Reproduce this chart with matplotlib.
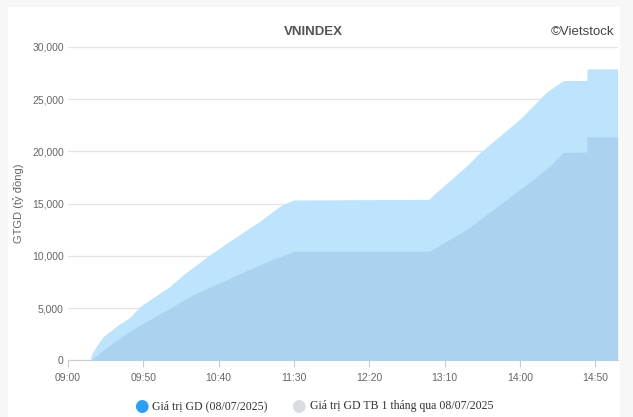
import matplotlib
matplotlib.use("Agg")
import matplotlib.pyplot as plt

plt.rcParams['font.family'] = ['Liberation Sans', 'DejaVu Sans']

# minutes since 09:00
today_t = [15, 15.3, 20, 23.4, 33.4, 41, 47.8, 67.7, 76.6, 94.3, 114, 127.5, 140.8, 149.6,
           239.7, 243, 264.7, 273.6, 286.9, 300.1, 317.9, 328.9, 344.5, 344.6, 365]
today_v = [0, 500, 1600, 2270, 3400, 4100, 5150, 7080, 8200, 10120, 12050, 13330, 14770, 15350,
           15410, 15890, 18620, 19900, 21500, 23100, 25700, 26790, 26790, 27900, 27900]

avg_t = [15, 23.4, 39, 50, 67.7, 83.2, 105.4, 127.5, 149.6,
         240, 264.7, 286.9, 309, 320, 328.9, 344.5, 344.6, 365]
avg_v = [0, 990, 2600, 3560, 5000, 6280, 7720, 9160, 10440,
         10440, 12530, 14930, 17340, 18620, 19900, 19950, 21400, 21400]

tick_pos = [0, 50, 100, 150, 200, 250, 300, 350]
tick_lab = ["09:00", "09:50", "10:40", "11:30", "12:20", "13:10", "14:00", "14:50"]
y_ticks = [0, 5000, 10000, 15000, 20000, 25000, 30000]

fig = plt.figure(figsize=(6.33, 4.17), dpi=100)
fig.patch.set_facecolor("#f7f7f7")

# white panel behind the chart
bg = fig.add_axes([8 / 633, 0, 612 / 633, 410 / 417], zorder=-1)
bg.set_facecolor("white")
bg.set_xticks([])
bg.set_yticks([])
for s in bg.spines.values():
    s.set_visible(False)

ax = fig.add_axes([68 / 633, 1 - 360.3 / 417, 550 / 633, 313.3 / 417], zorder=1)
ax.patch.set_alpha(0)
ax.fill_between(today_t, today_v, color="#bee3fc", lw=0, zorder=2)
ax.fill_between(avg_t, avg_v, color="#abd3f0", lw=0, zorder=3)

ax.set_xlim(0, 365.2)
ax.set_ylim(0, 30000)
ax.set_yticks(y_ticks)
ax.set_yticklabels(["{:,}".format(v) for v in y_ticks])
ax.set_xticks(tick_pos)
ax.set_xticklabels(tick_lab)
ax.grid(axis="y", color="#e3e3e3", lw=0.9, zorder=1)
ax.set_axisbelow(True)
for s in ["top", "right", "left"]:
    ax.spines[s].set_visible(False)
ax.spines["bottom"].set_color("#cccccc")
ax.tick_params(axis="y", length=0, pad=3, labelsize=7.5, labelcolor="#666666")
ax.tick_params(axis="x", length=5, color="#cccccc", pad=4, labelsize=7.5, labelcolor="#666666")

ax.set_ylabel("GTGD (tỷ đồng)", fontsize=8, color="#666666")
ax.yaxis.set_label_coords(-0.08, 0.5)

fig.text(313 / 633, 1 - 32 / 417, "VNINDEX", ha="center", va="center",
         fontsize=9.5, fontweight="bold", color="#555555")
fig.text(614 / 633, 1 - 32 / 417, "©Vietstock", ha="right", va="center",
         fontsize=9.5, color="#444444")

# legend
ly = 1 - 406 / 417
fig.text(141 / 633, ly, "●", ha="center", va="center", fontsize=12, color="#2e9ef2",
         family="DejaVu Sans")
fig.text(152 / 633, ly, "Giá trị GD (08/07/2025)", ha="left", va="center",
         fontsize=8.5, color="#333333", family="Liberation Serif")
fig.text(298 / 633, ly, "●", ha="center", va="center", fontsize=12, color="#d9dde2",
         family="DejaVu Sans")
fig.text(310 / 633, ly, "Giá trị GD TB 1 tháng qua 08/07/2025", ha="left", va="center",
         fontsize=8.5, color="#333333", family="Liberation Serif")

fig.savefig("out.png", dpi=100, facecolor=fig.get_facecolor())
